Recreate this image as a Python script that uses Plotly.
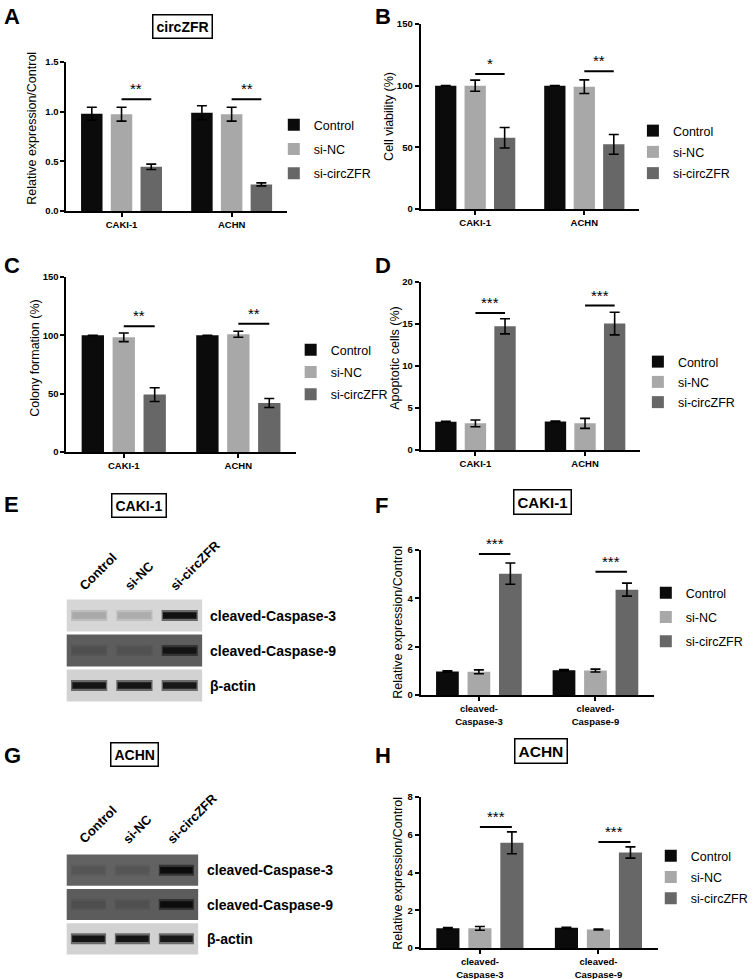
import plotly.graph_objects as go

W, H = 753, 979
FONT = "Liberation Sans, Arial, sans-serif"

# ---------------- data ----------------
series_names = ["Control", "si-NC", "si-circZFR"]
cell_lines = ["CAKI-1", "ACHN"]
caspase_labels = ["cleaved-<br>Caspase-3", "cleaved-<br>Caspase-9"]

# A: circZFR relative expression
A_control = [0.98, 0.99]
A_sinc = [0.975, 0.975]
A_circ = [0.445, 0.268]
A_control_err = [0.065, 0.07]
A_sinc_err = [0.07, 0.07]
A_circ_err = [0.027, 0.015]
A_sig = ["**", "**"]
A_sig_y = [1.125, 1.125]

# B: cell viability (%)
B_control = [100, 100]
B_sinc = [100, 99.2]
B_circ = [57.8, 52.4]
B_control_err = [0, 0]
B_sinc_err = [4.5, 5.5]
B_circ_err = [8.3, 8.0]
B_sig = ["*", "**"]
B_sig_y = [109.4, 111.6]

# C: colony formation (%)
C_control = [100, 100]
C_sinc = [98.3, 100.9]
C_circ = [49.2, 42.0]
C_control_err = [0, 0]
C_sinc_err = [3.7, 2.6]
C_circ_err = [5.9, 3.9]
C_sig = ["**", "**"]
C_sig_y = [107.7, 110.0]

# D: apoptotic cells (%)
D_control = [3.37, 3.4]
D_sinc = [3.17, 3.17]
D_circ = [14.73, 15.05]
D_control_err = [0.05, 0.04]
D_sinc_err = [0.4, 0.6]
D_circ_err = [0.9, 1.35]
D_sig = ["***", "***"]
D_sig_y = [16.3, 17.2]

# F: CAKI-1 cleaved caspases
F_control = [0.97, 1.02]
F_sinc = [0.96, 1.01]
F_circ = [5.02, 4.36]
F_control_err = [0.03, 0.03]
F_sinc_err = [0.08, 0.06]
F_circ_err = [0.44, 0.27]
F_sig = ["***", "***"]
F_sig_y = [5.83, 5.1]

# H: ACHN cleaved caspases
H_control = [1.05, 1.07]
H_sinc = [1.04, 0.98]
H_circ = [5.57, 5.06]
H_control_err = [0.03, 0.03]
H_sinc_err = [0.1, 0.03]
H_circ_err = [0.58, 0.3]
H_sig = ["***", "***"]
H_sig_y = [6.41, 5.62]

# Western blots (E: CAKI-1, G: ACHN): relative band intensity per row x lane
blot_lanes = ["Control", "si-NC", "si-circZFR"]
blot_rows = ["cleaved-Caspase-3", "cleaved-Caspase-9", "β-actin"]
E_band_intensity = [[0.22, 0.2, 0.97], [0.16, 0.14, 0.88], [0.95, 0.95, 0.93]]
G_band_intensity = [[0.14, 0.14, 0.97], [0.16, 0.14, 0.97], [0.95, 0.95, 0.93]]

# ---------------- styles ----------------
series_colors = ["#0b0b0b", "#a8a8a8", "#676767"]
E_row_bg = ["#d6d6d6", "#5d5d5d", "#d2d2d2"]
G_row_bg = ["#626262", "#5c5c5c", "#d2d2d2"]
BAND_DARK = (10, 10, 10)
BAR_W = 0.195
BAR_STEP = 0.27


def px_x(p):
    return p / W


def px_y(p):
    return 1 - p / H


def hex2rgb(h):
    h = h.lstrip("#")
    return tuple(int(h[i:i + 2], 16) for i in (0, 2, 4))


def blend(bg, t):
    r, g, b = hex2rgb(bg)
    return "rgb(%d,%d,%d)" % (r + (BAND_DARK[0] - r) * t, g + (BAND_DARK[1] - g) * t, b + (BAND_DARK[2] - b) * t)


panels = [
    dict(key="A", means=[A_control, A_sinc, A_circ], errs=[A_control_err, A_sinc_err, A_circ_err],
         sig=A_sig, sig_y=A_sig_y, cats=cell_lines, ytitle="Relative expression/Control",
         ymax=1.5, dtick=0.5, fmt=".1f", box=(67, 289, 62, 211), legend=(313, 149, 5), title=(32, 128)),
    dict(key="B", means=[B_control, B_sinc, B_circ], errs=[B_control_err, B_sinc_err, B_circ_err],
         sig=B_sig, sig_y=B_sig_y, cats=cell_lines, ytitle="Cell viability (%)",
         ymax=150, dtick=50, fmt="d", box=(424, 644, 24, 209), legend=(675, 152, 2), title=(392, 116)),
    dict(key="C", means=[C_control, C_sinc, C_circ], errs=[C_control_err, C_sinc_err, C_circ_err],
         sig=C_sig, sig_y=C_sig_y, cats=cell_lines, ytitle="Colony formation (%)",
         ymax=150, dtick=50, fmt="d", box=(67, 298, 277, 452), legend=(330, 372, 3), title=(35, 358)),
    dict(key="D", means=[D_control, D_sinc, D_circ], errs=[D_control_err, D_sinc_err, D_circ_err],
         sig=D_sig, sig_y=D_sig_y, cats=cell_lines, ytitle="Apoptotic cells (%)",
         ymax=20, dtick=5, fmt="d", box=(424, 645, 282, 450), legend=(680, 382, 1), title=(398, 358)),
    dict(key="F", means=[F_control, F_sinc, F_circ], errs=[F_control_err, F_sinc_err, F_circ_err],
         sig=F_sig, sig_y=F_sig_y, cats=caspase_labels, ytitle="Relative expression/Control",
         ymax=6, dtick=2, fmt="d", box=(424, 659, 550, 695), legend=(688, 617, 5), title=(401, 622)),
    dict(key="H", means=[H_control, H_sinc, H_circ], errs=[H_control_err, H_sinc_err, H_circ_err],
         sig=H_sig, sig_y=H_sig_y, cats=caspase_labels, ytitle="Relative expression/Control",
         ymax=8, dtick=2, fmt="d", box=(424, 663, 797, 948), legend=(693, 877, 2), title=(401, 873)),
]

fig = go.Figure()
layout = dict(
    width=W, height=H, margin=dict(l=0, r=0, t=0, b=0),
    paper_bgcolor="white", plot_bgcolor="rgba(0,0,0,0)",
    barmode="overlay", font=dict(family=FONT, color="black"),
    showlegend=True,
)
annotations = []
shapes = []

for i, p in enumerate(panels):
    n = i + 1
    xa = "x" if n == 1 else "x%d" % n
    ya = "y" if n == 1 else "y%d" % n
    lname = "legend" if n == 1 else "legend%d" % n
    x0, x1, yt, yb = p["box"]
    groups = list(range(len(p["cats"])))
    for s, name in enumerate(series_names):
        xs = [g + (s - 1) * BAR_STEP for g in groups]
        fig.add_trace(go.Bar(
            x=xs, y=p["means"][s], width=BAR_W, name=name,
            marker=dict(color=series_colors[s], line=dict(width=0)),
            error_y=dict(type="data", array=p["errs"][s], color="black", thickness=1.6, width=5),
            xaxis=xa, yaxis=ya, legend=lname, legendgroup="%s%d" % (p["key"], s),
            hoverinfo="skip",
        ))
    for g in groups:
        xa_ = g
        xb_ = g + BAR_STEP
        fig.add_trace(go.Scatter(
            x=[xa_, xb_], y=[p["sig_y"][g]] * 2, mode="lines",
            line=dict(color="black", width=2), showlegend=False, hoverinfo="skip",
            xaxis=xa, yaxis=ya, cliponaxis=False,
        ))
        annotations.append(dict(
            x=(xa_ + xb_) / 2, y=p["sig_y"][g], xref=xa, yref=ya, text=p["sig"][g],
            showarrow=False, yanchor="bottom", xanchor="center", yshift=0,
            font=dict(size=15, family=FONT),
        ))
    layout["xaxis" if n == 1 else "xaxis%d" % n] = dict(
        domain=[px_x(x0), px_x(x1)], anchor=ya, range=[-0.5, len(groups) - 0.5],
        tickmode="array", tickvals=groups, ticktext=p["cats"],
        showline=True, linecolor="black", linewidth=2, ticks="outside", ticklen=4,
        tickwidth=2, tickcolor="black", showgrid=False, zeroline=False,
        tickfont=dict(size=9.5, family=FONT, weight="bold"), fixedrange=True,
    )
    layout["yaxis" if n == 1 else "yaxis%d" % n] = dict(
        domain=[px_y(yb), px_y(yt)], anchor=xa, range=[0, p["ymax"]], dtick=p["dtick"],
        tick0=0, tickformat=p["fmt"], showline=True, linecolor="black", linewidth=2,
        ticks="outside", ticklen=4, tickwidth=2, tickcolor="black", showgrid=False,
        zeroline=False, tickfont=dict(size=9.5, family=FONT, weight="bold"),
        automargin=False, fixedrange=True,
    )
    tx, ty = p["title"]
    annotations.append(dict(x=px_x(tx), y=px_y(ty), xref="paper", yref="paper", text=p["ytitle"],
                            textangle=-90, showarrow=False, xanchor="center", yanchor="middle",
                            font=dict(size=12.5, family=FONT)))
    lx, ly, gap = p["legend"]
    layout[lname] = dict(
        x=px_x(lx - 37), y=px_y(ly), xanchor="left", yanchor="middle",
        xref="paper", yref="paper", bgcolor="rgba(0,0,0,0)",
        font=dict(size=12.5, family=FONT), tracegroupgap=gap, itemclick=False,
        itemdoubleclick=False,
    )

# ---------------- western blots ----------------
blots = [
    dict(inten=E_band_intensity, bg=E_row_bg, box=(67, 204, 598, 703), label_x=210, lane_y=596),
    dict(inten=G_band_intensity, bg=G_row_bg, box=(67, 200, 853, 956), label_x=207, lane_y=849),
]
for j, b in enumerate(blots):
    n = 7 + j
    xa, ya = "x%d" % n, "y%d" % n
    x0, x1, yt, yb = b["box"]
    layout["xaxis%d" % n] = dict(domain=[px_x(x0), px_x(x1)], anchor=ya, range=[-0.5, 2.5],
                                 visible=False, fixedrange=True)
    layout["yaxis%d" % n] = dict(domain=[px_y(yb), px_y(yt)], anchor=xa, range=[2.5, -0.5],
                                 visible=False, fixedrange=True)
    for r, row in enumerate(blot_rows):
        shapes.append(dict(type="rect", xref=xa, yref=ya, x0=-0.5, x1=2.5, y0=r - 0.455, y1=r + 0.455,
                           fillcolor=b["bg"][r], line=dict(width=0), layer="below"))
        for l in range(len(blot_lanes)):
            t = b["inten"][r][l]
            fig.add_trace(go.Scatter(x=[l - 0.40, l + 0.40], y=[r, r], mode="lines",
                                     line=dict(color=blend(b["bg"][r], t * 0.55), width=11),
                                     xaxis=xa, yaxis=ya, showlegend=False, hoverinfo="skip"))
            fig.add_trace(go.Scatter(x=[l - 0.37, l + 0.37], y=[r, r], mode="lines",
                                     line=dict(color=blend(b["bg"][r], t), width=6.5),
                                     xaxis=xa, yaxis=ya, showlegend=False, hoverinfo="skip"))
        annotations.append(dict(x=px_x(b["label_x"]), y=r, xref="paper", yref=ya, text="<b>%s</b>" % row,
                                showarrow=False, xanchor="left", yanchor="middle",
                                font=dict(size=14, family=FONT)))
    for l, lane in enumerate(blot_lanes):
        annotations.append(dict(x=l - 0.34, y=px_y(b["lane_y"]), xref=xa, yref="paper",
                                text="<b>%s</b>" % lane, textangle=-45, showarrow=False,
                                xanchor="left", yanchor="bottom", font=dict(size=13, family=FONT)))

# ---------------- titles & letters ----------------
title_boxes = [("circZFR", 184, 26.5, 14), ("CAKI-1", 140.5, 505, 14), ("CAKI-1", 547, 502, 15),
               ("ACHN", 135.5, 754, 14), ("ACHN", 545, 751, 15.5)]
for txt, cx, cy, fs in title_boxes:
    annotations.append(dict(x=px_x(cx), y=px_y(cy), xref="paper", yref="paper", text="<b>%s</b>" % txt,
                            showarrow=False, xanchor="center", yanchor="middle",
                            bordercolor="black", borderwidth=1.5, borderpad=3, bgcolor="white",
                            font=dict(size=fs, family=FONT)))

letters = [("A", 2, 2), ("B", 376, 2), ("C", 2, 251), ("D", 376, 251),
           ("E", 2, 490), ("F", 376, 491), ("G", 2, 741), ("H", 376, 741)]
for t, lx, ly in letters:
    annotations.append(dict(x=px_x(lx), y=px_y(ly), xref="paper", yref="paper", text="<b>%s</b>" % t,
                            showarrow=False, xanchor="left", yanchor="top",
                            font=dict(size=22, family=FONT)))

layout["annotations"] = annotations
layout["shapes"] = shapes
fig.update_layout(**layout)
fig.write_html("out.html", config={"displayModeBar": False, "staticPlot": True},
               post_script="document.body.style.margin='0px';document.body.style.padding='0px';"
                           "document.body.style.overflow='hidden';")
